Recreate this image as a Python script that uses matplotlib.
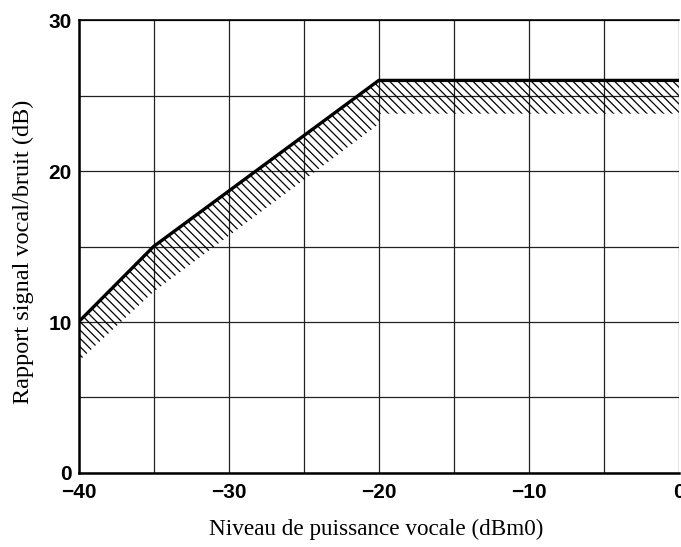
"""Rapport signal vocal/bruit en fonction du niveau de puissance vocale."""

import matplotlib
matplotlib.use('Agg')
import matplotlib.pyplot as plt

# limit curve (dBm0 -> dB)
level = [-40, -35, -20, 0]
snr = [10, 15, 26, 26]

# lower edge of the hatched band
band_level = [-40, -35, -20, -19.9, 0]
band_upper = [10, 15, 26, 26, 26]
band_lower = [7.4, 12.0, 23.1, 23.8, 23.8]

x_ticks = [-40, -30, -20, -10, 0]
y_ticks = [0, 10, 20, 30]

_TICK_FONT = ['Liberation Sans', 'DejaVu Sans']
_LABEL_FONT = ['Liberation Serif', 'DejaVu Serif']


def _main():
    plt.rcParams['hatch.linewidth'] = 0.9
    fig = plt.figure(figsize=(6.81, 5.47), dpi=100)
    ax = fig.add_axes([0.1153, 0.1353, 0.8817, 0.8281])

    ax.fill_between(band_level, band_lower, band_upper, facecolor='none',
                    edgecolor='black', hatch='\\\\\\\\', linewidth=0)
    ax.plot(level, snr, color='black', linewidth=2.4, solid_joinstyle='miter')

    ax.set_xlim(-40, 0)
    ax.set_ylim(0, 30)
    ax.set_xticks(x_ticks)
    ax.set_xticks(range(-35, 0, 10), minor=True)
    ax.set_yticks(y_ticks)
    ax.set_yticks(range(5, 30, 10), minor=True)
    ax.set_xticklabels(['\u2212%d' % -t if t < 0 else '%d' % t for t in x_ticks],
                       family=_TICK_FONT, fontweight='bold', fontsize=15)
    ax.set_yticklabels(['%d' % t for t in y_ticks],
                       family=_TICK_FONT, fontweight='bold', fontsize=15)
    ax.tick_params(which='both', length=0)
    ax.tick_params(axis='x', pad=7)
    ax.tick_params(axis='y', pad=5)
    ax.grid(True, which='both', color='#222222', linewidth=0.9)
    ax.set_axisbelow(True)

    for side in ['left', 'bottom']:
        ax.spines[side].set_linewidth(1.8)
    ax.spines['top'].set_linewidth(1.2)
    ax.spines['right'].set_visible(False)

    ax.set_xlabel('Niveau de puissance vocale (dBm0)', family=_LABEL_FONT,
                  fontsize=16.7, va='center', ha='center')
    ax.xaxis.set_label_coords(0.495, -0.125)
    ax.set_ylabel('Rapport signal vocal/bruit (dB)', family=_LABEL_FONT,
                  fontsize=17.5, va='center', ha='center')
    ax.yaxis.set_label_coords(-0.091, 0.488)

    fig.savefig('out.png', dpi=100)


if __name__ == '__main__':
    _main()
